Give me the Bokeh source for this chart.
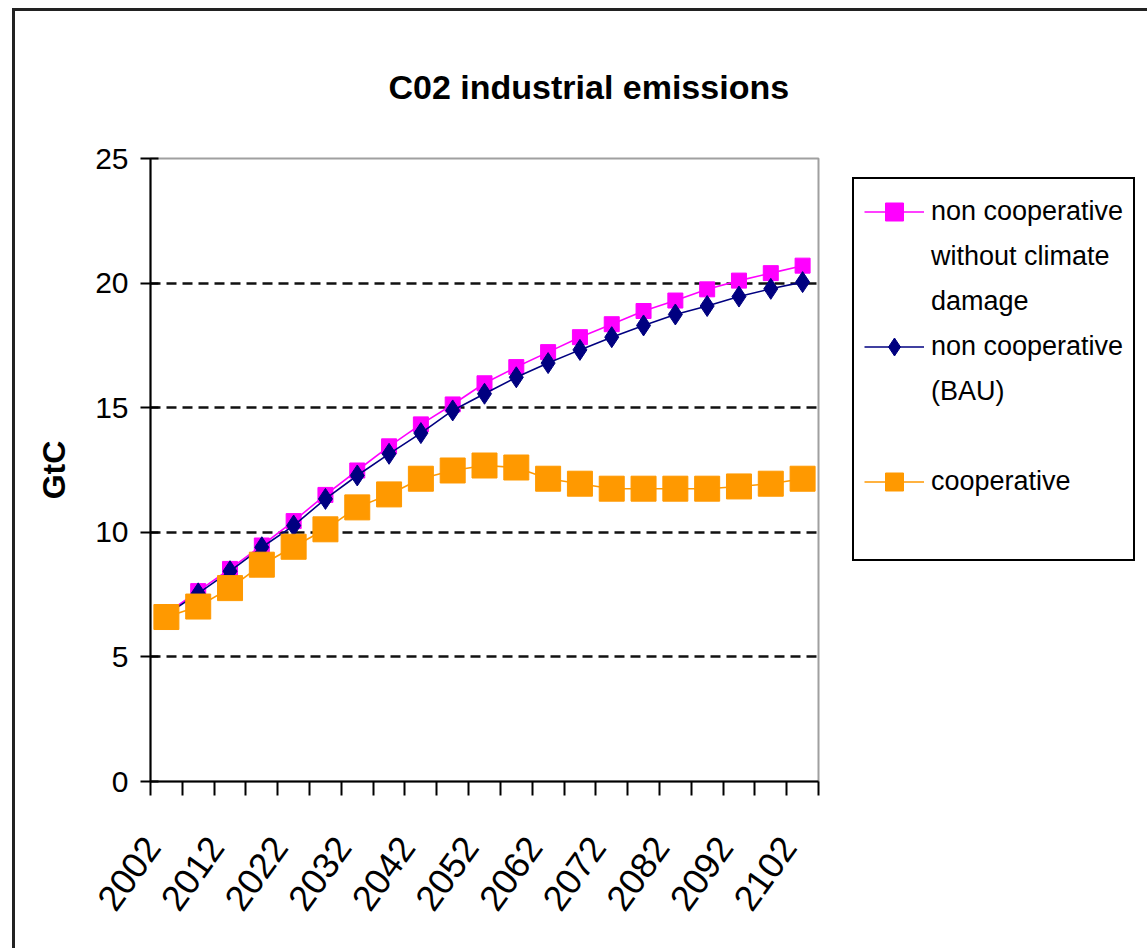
from bokeh.plotting import figure
from bokeh.models import FixedTicker, Legend, LegendItem, Range1d
from bokeh.core.properties import value
from bokeh.embed import file_html
from bokeh.resources import INLINE

# ---------------- data ----------------
years = [2002, 2007, 2012, 2017, 2022, 2027, 2032, 2037, 2042, 2047, 2052,
         2057, 2062, 2067, 2072, 2077, 2082, 2087, 2092, 2097, 2102]
tick_years = [2002, 2012, 2022, 2032, 2042, 2052, 2062, 2072, 2082, 2092, 2102]
y_ticks = [0, 5, 10, 15, 20, 25]
grid_ticks = [5, 10, 15, 20]

no_damage = [6.75, 7.64, 8.53, 9.47, 10.45, 11.5, 12.48, 13.45, 14.33, 15.13, 15.98,
             16.63, 17.23, 17.83, 18.35, 18.88, 19.3, 19.75, 20.1, 20.4, 20.7]
bau = [6.7, 7.55, 8.44, 9.4, 10.27, 11.34, 12.28, 13.15, 13.98, 14.89, 15.56,
       16.22, 16.79, 17.32, 17.83, 18.3, 18.74, 19.08, 19.46, 19.77, 20.04]
cooperative = [6.6, 7.02, 7.76, 8.7, 9.42, 10.12, 11.0, 11.52, 12.15, 12.48, 12.68,
               12.6, 12.15, 11.95, 11.75, 11.75, 11.75, 11.75, 11.84, 11.95, 12.15]

title_text = "C02 industrial emissions"
y_label = "GtC"
legend_lines = {
    "no_damage": ["non cooperative", "without climate", "damage"],
    "bau": ["non cooperative", "(BAU)"],
    "coop": ["cooperative"],
}

FONT = "Liberation Sans"

p = figure(frame_width=668, frame_height=623,
           x_range=Range1d(1999.5, 2104.5), y_range=Range1d(0, 25),
           output_backend="svg", toolbar_location=None,
           min_border_left=135, min_border_right=329,
           min_border_top=147, min_border_bottom=167)
p.styles = {"border-left": "3px solid #222", "border-top": "3px solid #222",
            "margin-left": "12px", "margin-top": "8px"}

p.background_fill_color = "white"
p.border_fill_color = "white"
p.outline_line_color = "#a0a0a0"
p.outline_line_width = 2

# title
p.title.text = title_text
p.title.text_font = FONT
p.title.text_font_style = "bold"
p.title.text_font_size = "34px"
p.title.text_color = "black"
p.title.align = "left"
p.title.vertical_align = "top"
p.title.offset = 238
p.title.standoff = 102

# grid
p.xgrid.visible = False
p.ygrid.ticker = FixedTicker(ticks=grid_ticks)
p.ygrid.grid_line_color = "#111111"
p.ygrid.grid_line_width = 2.5
p.ygrid.grid_line_dash = "10 6"

# y axis
ya = p.yaxis[0]
ya.ticker = FixedTicker(ticks=y_ticks)
ya.axis_line_color = "black"
ya.axis_line_width = 2
ya.major_tick_line_color = "black"
ya.major_tick_line_width = 2
ya.major_tick_in = 8
ya.major_tick_out = 10
ya.minor_tick_line_color = None
ya.major_label_text_font = FONT
ya.major_label_text_font_size = "30px"
ya.major_label_text_color = "black"
ya.major_label_standoff = 12
ya.axis_label = y_label
ya.axis_label_text_font = FONT
ya.axis_label_text_font_style = "bold"
ya.axis_label_text_font_size = "32px"
ya.axis_label_text_color = "black"
ya.axis_label_standoff = 20

# x axis: minor ticks mark category boundaries, labels sit just left of each category centre
boundaries = [y - 2.5 for y in years] + [years[-1] + 2.5]
label_pos = [y - 2.3 for y in tick_years]
xa = p.xaxis[0]
xa.ticker = FixedTicker(ticks=label_pos, minor_ticks=boundaries)
xa.major_label_overrides = {pos: str(y) for pos, y in zip(label_pos, tick_years)}
xa.axis_line_color = "black"
xa.axis_line_width = 2
xa.major_tick_line_color = None
xa.major_tick_in = 0
xa.major_tick_out = 0
xa.minor_tick_line_color = "black"
xa.minor_tick_line_width = 2
xa.minor_tick_in = 0
xa.minor_tick_out = 14
xa.major_label_orientation = 0.95
xa.major_label_text_font = FONT
xa.major_label_text_font_size = "36px"
xa.major_label_text_color = "black"
xa.major_label_standoff = 45

# series
l1 = p.line(years, no_damage, line_color="#FF00FF", line_width=1.6)
m1 = p.scatter(years, no_damage, marker="square", size=15, color="#FF00FF")
l2 = p.line(years, bau, line_color="#000080", line_width=1.6)
m2 = p.scatter(years, bau, marker="diamond", size=21, color="#000080")
l3 = p.line(years, cooperative, line_color="#FF9900", line_width=1.6)
m3 = p.scatter(years, cooperative, marker="square", size=25, color="#FF9900")
dummy = p.scatter(x=[], y=[], alpha=0)

items = []
items.append(LegendItem(label=value(legend_lines["no_damage"][0]), renderers=[l1, m1]))
for t in legend_lines["no_damage"][1:]:
    items.append(LegendItem(label=value(t), renderers=[dummy]))
items.append(LegendItem(label=value(legend_lines["bau"][0]), renderers=[l2, m2]))
for t in legend_lines["bau"][1:]:
    items.append(LegendItem(label=value(t), renderers=[dummy]))
items.append(LegendItem(label=value(" "), renderers=[dummy]))
items.append(LegendItem(label=value(legend_lines["coop"][0]), renderers=[l3, m3]))
items.append(LegendItem(label=value(" "), renderers=[dummy]))

legend = Legend(items=items, location=(34, 220), padding=10, spacing=0, margin=0,
                glyph_width=60, glyph_height=45, label_height=45, label_standoff=7,
                label_text_font=FONT, label_text_font_size="27px",
                label_text_color="black",
                border_line_color="black", border_line_width=2, border_line_alpha=1.0,
                background_fill_color="white", background_fill_alpha=1.0)
p.add_layout(legend, "right")

open("out.html", "w").write(file_html(p, INLINE))
